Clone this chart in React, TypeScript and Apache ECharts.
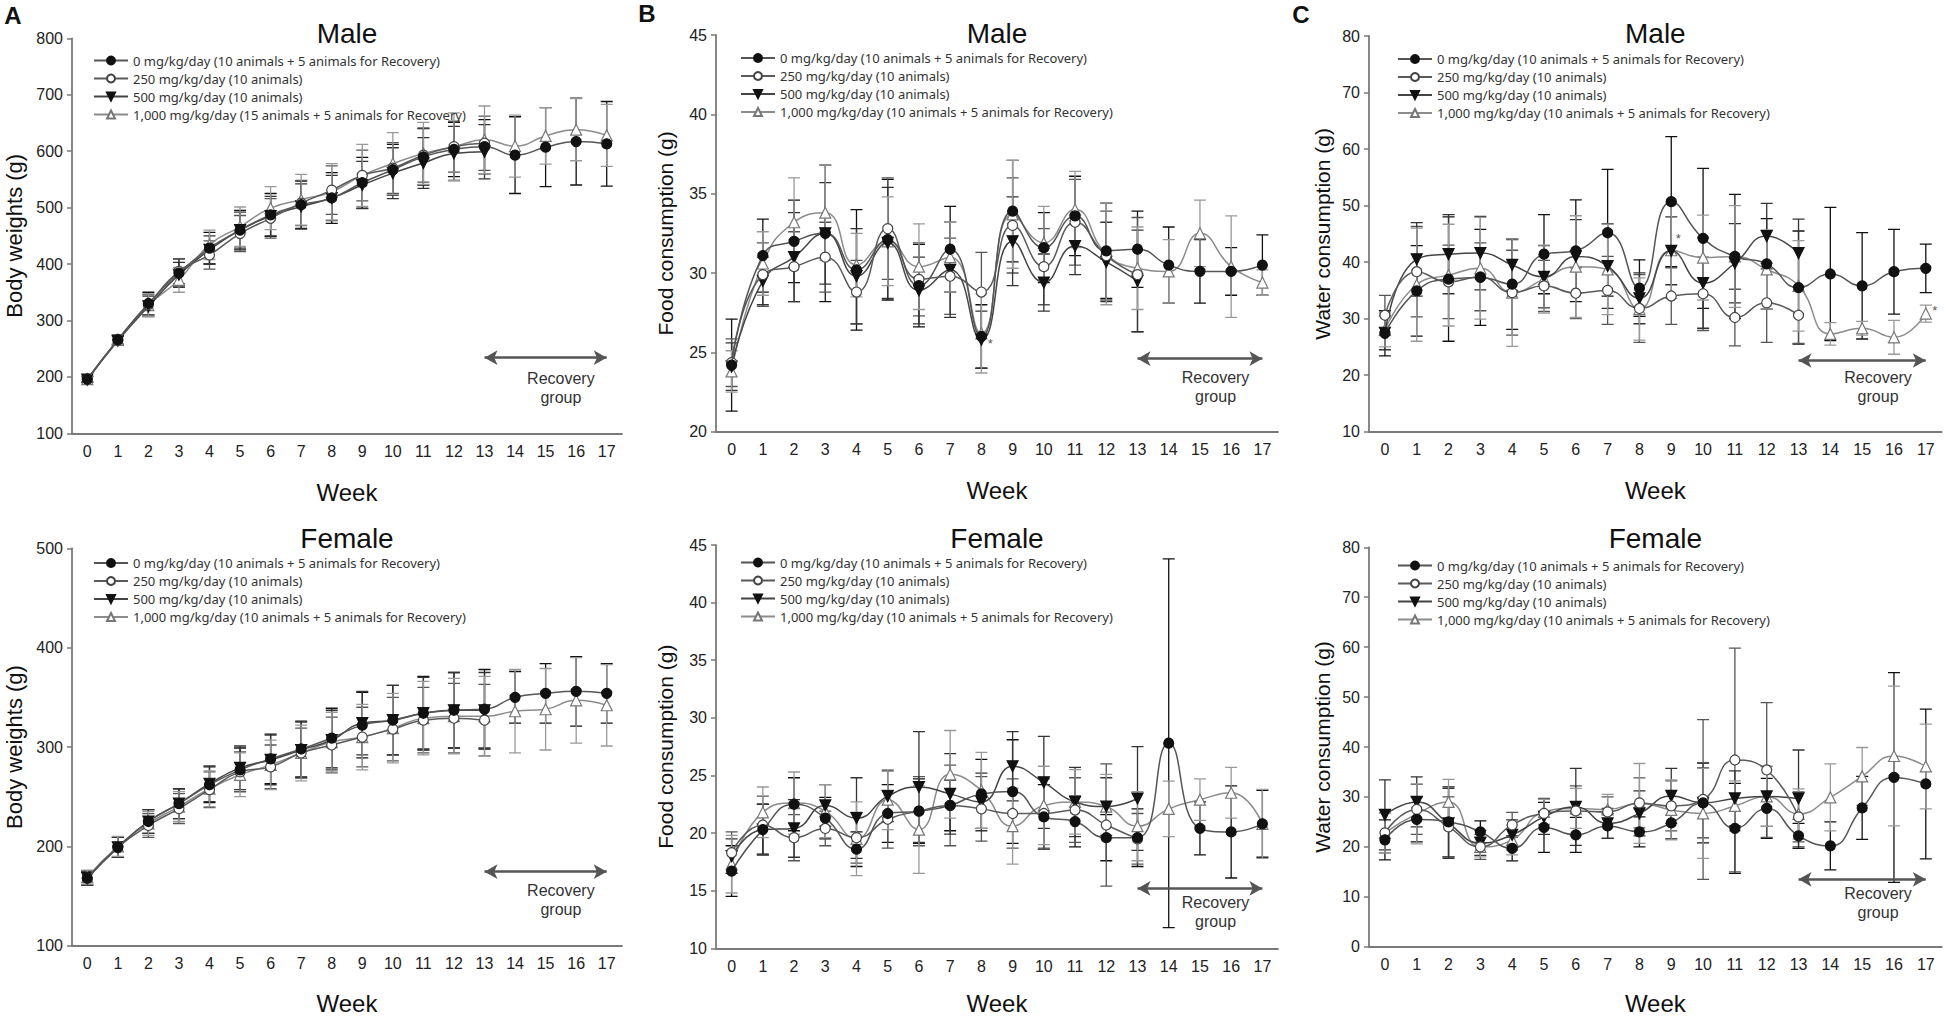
import React, { useEffect, useRef } from 'react';
import * as echarts from 'echarts';

// ---------- data ----------
const weeks = ['0', '1', '2', '3', '4', '5', '6', '7', '8', '9', '10', '11', '12', '13', '14', '15', '16', '17'];

const name0 = '0 mg/kg/day (10 animals + 5 animals for Recovery)';
const name250 = '250 mg/kg/day (10 animals)';
const name500 = '500 mg/kg/day (10 animals)';
const name1000 = '1,000 mg/kg/day (10 animals + 5 animals for Recovery)';
const name1000bwMale = '1,000 mg/kg/day (15 animals + 5 animals for Recovery)';

// A - body weights, male
const bwM0 = [196, 266, 330, 384, 428, 460, 487, 505, 517, 544, 567, 590, 603, 608, 593, 607, 617, 613];
const bwM0Sd = [5, 8, 20, 25, 28, 35, 38, 42, 45, 45, 45, 50, 48, 48, 68, 70, 77, 75];
const bwM250 = [196, 265, 328, 387, 416, 454, 481, 508, 531, 557, 570, 593, 608, 614];
const bwM250Sd = [5, 8, 18, 22, 25, 32, 35, 40, 43, 45, 45, 48, 45, 48];
const bwM500 = [195, 264, 325, 381, 425, 460, 485, 502, 517, 540, 561, 579, 596, 599];
const bwM500Sd = [5, 8, 18, 22, 25, 32, 35, 40, 40, 42, 45, 45, 48, 48];
const bwM1000 = [196, 266, 327, 372, 434, 466, 499, 514, 528, 557, 578, 596, 608, 620, 609, 627, 638, 628];
const bwM1000Sd = [5, 8, 20, 22, 26, 35, 38, 45, 50, 55, 55, 55, 60, 60, 55, 50, 55, 55];

// A - body weights, female
const bwF0 = [168, 199, 225, 243, 262, 277, 288, 298, 309, 322, 327, 334, 337, 338, 350, 354, 356, 354];
const bwF0Sd = [7, 10, 12, 15, 18, 22, 25, 28, 30, 33, 35, 37, 38, 40, 26, 30, 35, 30];
const bwF250 = [168, 199, 221, 238, 257, 275, 280, 294, 302, 310, 318, 327, 329, 327];
const bwF250Sd = [7, 10, 12, 15, 18, 20, 22, 25, 28, 30, 32, 33, 35, 36];
const bwF500 = [168, 199, 225, 243, 263, 279, 287, 297, 307, 324, 327, 334, 337, 337];
const bwF500Sd = [7, 10, 12, 15, 18, 22, 25, 28, 30, 32, 35, 36, 38, 38];
const bwF1000 = [169, 200, 223, 240, 258, 272, 282, 294, 305, 310, 319, 329, 331, 331, 336, 338, 347, 342];
const bwF1000Sd = [7, 10, 12, 15, 18, 22, 25, 28, 30, 33, 35, 37, 38, 40, 42, 41, 43, 41];

// B - food consumption, male
const fcM0 = [24.2, 31.1, 32.0, 32.5, 30.2, 32.1, 29.2, 31.5, 26.0, 33.9, 31.6, 33.6, 31.4, 31.5, 30.5, 30.1, 30.1, 30.5];
const fcM0Sd = [2.9, 2.3, 2.6, 4.3, 3.8, 3.8, 2.6, 2.7, 2.0, 3.2, 2.2, 2.5, 3.0, 2.4, 2.4, 2.0, 1.5, 1.9];
const fcM250 = [24.35, 29.9, 30.4, 31.0, 28.8, 32.8, 29.6, 29.8, 28.8, 33.0, 30.4, 33.2, 31.1, 29.9];
const fcM250Sd = [1.5, 2.0, 2.2, 2.2, 2.0, 3.2, 2.3, 2.4, 2.5, 3.0, 2.4, 2.7, 2.8, 3.6];
const fcM500 = [24.1, 29.5, 31.0, 32.5, 29.8, 31.9, 28.9, 30.2, 25.8, 32.0, 29.4, 31.7, 30.7, 29.5];
const fcM500Sd = [1.5, 1.5, 2.8, 3.2, 3.0, 3.5, 2.1, 3.0, 1.8, 2.8, 1.8, 1.8, 2.5, 3.2];
const fcM1000 = [23.8, 30.6, 33.2, 33.8, 30.5, 32.0, 30.4, 31.0, 26.2, 33.7, 31.9, 34.0, 31.2, 30.3, 30.1, 32.5, 30.4, 29.4];
const fcM1000Sd = [1.3, 2.0, 2.8, 3.0, 2.0, 2.8, 2.7, 2.2, 2.5, 3.4, 2.3, 2.4, 3.2, 2.6, 2.0, 2.1, 3.2, 0.8];

// B - food consumption, female
const fcF0 = [16.7, 20.3, 22.5, 21.3, 18.6, 21.7, 21.9, 22.4, 23.4, 23.6, 21.4, 21.0, 19.6, 19.6, 27.8, 20.4, 20.1, 20.8];
const fcF0Sd = [2.2, 2.2, 2.3, 1.8, 1.5, 2.5, 2.8, 2.2, 3.0, 4.5, 2.8, 2.2, 2.0, 2.5, 16.0, 2.3, 4.0, 2.9];
const fcF250 = [18.3, 20.7, 19.6, 20.4, 19.6, 21.2, 21.9, 22.4, 22.1, 21.7, 21.7, 22.0, 20.7, 19.5];
const fcF250Sd = [1.8, 2.5, 2.0, 1.5, 2.2, 2.5, 3.0, 3.5, 2.8, 3.0, 3.0, 2.8, 5.3, 2.2];
const fcF500 = [18.0, 20.3, 20.4, 22.4, 21.3, 23.2, 24.0, 23.4, 22.7, 25.8, 24.4, 22.7, 22.3, 23.0];
const fcF500Sd = [1.5, 2.2, 2.5, 1.8, 3.5, 2.2, 4.8, 3.5, 2.5, 3.0, 4.0, 3.0, 2.5, 4.5];
const fcF1000 = [17.3, 21.8, 22.6, 21.9, 19.5, 22.9, 20.3, 25.1, 23.7, 20.6, 22.4, 22.7, 22.3, 20.6, 22.1, 22.9, 23.5, 20.8];
const fcF1000Sd = [2.5, 2.2, 2.7, 2.3, 3.2, 2.6, 3.8, 3.8, 3.3, 3.3, 3.4, 2.8, 2.8, 3.0, 2.4, 1.8, 2.2, 3.0];

// C - water consumption, male
const wcM0 = [27.4, 34.9, 37.0, 37.3, 36.1, 41.4, 42.0, 45.2, 35.4, 50.7, 44.2, 41.0, 39.7, 35.5, 37.9, 35.8, 38.3, 38.9];
const wcM0Sd = [4.0, 8.0, 11.0, 8.5, 8.0, 7.0, 9.0, 11.2, 5.0, 11.5, 12.4, 11.0, 8.0, 10.0, 11.8, 9.4, 7.5, 4.3];
const wcM250 = [30.6, 38.3, 36.5, 37.4, 34.6, 35.8, 34.5, 35.0, 31.8, 34.0, 34.4, 30.2, 32.8, 30.6];
const wcM250Sd = [3.5, 8.0, 6.5, 6.0, 7.5, 4.5, 4.5, 6.0, 6.0, 5.0, 6.5, 5.0, 7.0, 5.0];
const wcM500 = [27.5, 40.5, 41.4, 41.6, 39.5, 37.4, 41.0, 39.3, 33.6, 42.0, 36.3, 39.8, 44.6, 41.6];
const wcM500Sd = [3.0, 6.5, 7.0, 6.5, 4.5, 5.5, 6.5, 7.5, 4.5, 6.0, 8.0, 7.0, 5.8, 6.0];
const wcM1000 = [28.0, 36.0, 37.7, 38.9, 34.6, 37.0, 39.2, 38.7, 31.7, 42.1, 40.8, 41.0, 38.7, 35.8, 27.3, 28.3, 26.7, 30.9];
const wcM1000Sd = [3.0, 10.0, 9.0, 9.0, 9.5, 6.0, 9.0, 8.0, 5.5, 8.5, 7.5, 9.0, 7.0, 8.0, 2.0, 1.2, 3.0, 1.5];

// C - water consumption, female
const wcF0 = [21.4, 25.5, 25.0, 23.0, 19.7, 23.9, 22.4, 24.2, 23.0, 24.8, 28.8, 23.7, 27.7, 22.2, 20.2, 27.8, 33.9, 32.6];
const wcF0Sd = [4.0, 4.5, 7.0, 2.2, 2.5, 5.0, 3.5, 2.5, 3.0, 3.2, 8.0, 9.0, 6.0, 2.5, 4.8, 6.3, 21.0, 15.0];
const wcF250 = [22.8, 27.5, 24.0, 20.0, 24.4, 26.7, 27.2, 27.0, 28.8, 28.2, 29.5, 37.4, 35.4, 26.0];
const wcF250Sd = [4.0, 5.0, 6.0, 2.5, 2.5, 3.0, 5.0, 3.0, 5.0, 5.0, 16.0, 22.4, 13.5, 5.0];
const wcF500 = [26.4, 29.0, 24.7, 20.8, 22.4, 26.0, 28.0, 24.7, 26.7, 30.2, 28.8, 29.7, 30.1, 29.7];
const wcF500Sd = [7.0, 5.0, 7.0, 2.5, 3.0, 3.5, 7.7, 3.0, 4.5, 5.5, 7.0, 5.5, 6.0, 9.7];
const wcF1000 = [22.8, 26.6, 29.0, 20.0, 21.4, 27.0, 27.7, 27.5, 28.7, 27.4, 26.7, 28.2, 30.1, 26.6, 29.9, 34.1, 38.2, 36.1];
const wcF1000Sd = [4.0, 6.0, 4.5, 2.0, 3.0, 2.5, 4.0, 3.0, 8.0, 6.0, 9.0, 5.0, 6.0, 5.0, 6.7, 5.8, 14.0, 8.5];

// ---------- styling ----------
const FONT = 'Liberation Sans, Arial, sans-serif';
const LEG_FONT = 'Noto Sans, sans-serif';

const doseStyles = [
  { symbol: 'circle', rotate: 0, size: 10, fill: '#111', border: '#111', line: '#555', err: '#111' },
  { symbol: 'circle', rotate: 0, size: 10, fill: '#fff', border: '#444', line: '#5a5a5a', err: '#555' },
  { symbol: 'triangle', rotate: 180, size: 11, fill: '#111', border: '#111', line: '#444', err: '#333' },
  { symbol: 'triangle', rotate: 0, size: 11, fill: '#fff', border: '#777', line: '#8c8c8c', err: '#999' },
];

type Panel = {
  grid: { left: number; top: number; width: number; height: number };
  min: number; max: number; interval: number;
  yName: string; yNameGap: number; yNameSize: number;
  title: string; weekGap: number;
  legendLeft: number; legendTop: number;
  names: string[];
  series: number[][][];
  arrowY: number; recTextY: number;
  notes: { dose: number; week: number; offset: number[] }[];
};

const panels: Panel[] = [
  {
    grid: { left: 72, top: 38.3, width: 550, height: 395 }, min: 100, max: 800, interval: 100,
    yName: 'Body weights (g)', yNameGap: 47, yNameSize: 22, title: 'Male', weekGap: 47,
    legendLeft: 93, legendTop: 55, names: [name0, name250, name500, name1000bwMale],
    series: [[bwM0, bwM0Sd], [bwM250, bwM250Sd], [bwM500, bwM500Sd], [bwM1000, bwM1000Sd]],
    arrowY: 234, recTextY: 387.5, notes: [],
  },
  {
    grid: { left: 716, top: 35, width: 562, height: 396.7 }, min: 20, max: 45, interval: 5,
    yName: 'Food consumption (g)', yNameGap: 40, yNameSize: 21, title: 'Male', weekGap: 47,
    legendLeft: 740, legendTop: 52.5, names: [name0, name250, name500, name1000],
    series: [[fcM0, fcM0Sd], [fcM250, fcM250Sd], [fcM500, fcM500Sd], [fcM1000, fcM1000Sd]],
    arrowY: 24.6, recTextY: 386.7, notes: [{ dose: 2, week: 8, offset: [9, 4] }],
  },
  {
    grid: { left: 1369, top: 36, width: 572.7, height: 395.7 }, min: 10, max: 80, interval: 10,
    yName: 'Water consumption (g)', yNameGap: 36, yNameSize: 21, title: 'Male', weekGap: 47,
    legendLeft: 1397, legendTop: 53.5, names: [name0, name250, name500, name1000],
    series: [[wcM0, wcM0Sd], [wcM250, wcM250Sd], [wcM500, wcM500Sd], [wcM1000, wcM1000Sd]],
    arrowY: 22.6, recTextY: 387.3,
    notes: [{ dose: 3, week: 9, offset: [7, -12] }, { dose: 3, week: 17, offset: [9, -3] }],
  },
  {
    grid: { left: 72, top: 548.3, width: 550, height: 397.4 }, min: 100, max: 500, interval: 100,
    yName: 'Body weights (g)', yNameGap: 47, yNameSize: 22, title: 'Female', weekGap: 46,
    legendLeft: 93, legendTop: 557.5, names: [name0, name250, name500, name1000],
    series: [[bwF0, bwF0Sd], [bwF250, bwF250Sd], [bwF500, bwF500Sd], [bwF1000, bwF1000Sd]],
    arrowY: 174.5, recTextY: 900, notes: [],
  },
  {
    grid: { left: 716, top: 545, width: 562, height: 403.3 }, min: 10, max: 45, interval: 5,
    yName: 'Food consumption (g)', yNameGap: 40, yNameSize: 21, title: 'Female', weekGap: 43,
    legendLeft: 740, legendTop: 557, names: [name0, name250, name500, name1000],
    series: [[fcF0, fcF0Sd], [fcF250, fcF250Sd], [fcF500, fcF500Sd], [fcF1000, fcF1000Sd]],
    arrowY: 15.2, recTextY: 911.7, notes: [],
  },
  {
    grid: { left: 1369, top: 547.3, width: 572.7, height: 399.4 }, min: 0, max: 80, interval: 10,
    yName: 'Water consumption (g)', yNameGap: 36, yNameSize: 21, title: 'Female', weekGap: 45,
    legendLeft: 1397, legendTop: 560, names: [name0, name250, name500, name1000],
    series: [[wcF0, wcF0Sd], [wcF250, wcF250Sd], [wcF500, wcF500Sd], [wcF1000, wcF1000Sd]],
    arrowY: 13.5, recTextY: 903.3, notes: [],
  },
];

function buildOption() {
  const grids: any[] = [];
  const xAxes: any[] = [];
  const yAxes: any[] = [];
  const titles: any[] = [];
  const legends: any[] = [];
  const series: any[] = [];
  const graphics: any[] = [];

  panels.forEach((p, g) => {
    grids.push({ ...p.grid, containLabel: false });
    xAxes.push({
      type: 'category', gridIndex: g, data: weeks, boundaryGap: true,
      name: 'Week', nameLocation: 'middle', nameGap: p.weekGap,
      nameTextStyle: { fontFamily: FONT, fontSize: 24, color: '#111' },
      axisLine: { lineStyle: { color: '#7a7a7a', width: 1.8 } },
      axisTick: { alignWithLabel: true, length: 5, lineStyle: { color: '#7a7a7a', width: 1.5 } },
      axisLabel: { interval: 0, fontFamily: FONT, fontSize: 16, color: '#222', margin: 10 },
      splitLine: { show: false },
    });
    yAxes.push({
      type: 'value', gridIndex: g, min: p.min, max: p.max, interval: p.interval,
      name: p.yName, nameLocation: 'middle', nameGap: p.yNameGap,
      nameTextStyle: { fontFamily: FONT, fontSize: p.yNameSize, color: '#111' },
      axisLine: { show: true, lineStyle: { color: '#7a7a7a', width: 1.8 } },
      axisTick: { show: true, length: 5, lineStyle: { color: '#7a7a7a', width: 1.5 } },
      axisLabel: { fontFamily: FONT, fontSize: 16, color: '#222', margin: 9 },
      splitLine: { show: false },
    });
    titles.push({
      text: p.title, left: p.grid.left + p.grid.width / 2, top: (g < 3 ? 35 : 540) - 16,
      textAlign: 'center', padding: 0,
      textStyle: { fontFamily: FONT, fontSize: 28, fontWeight: 'normal', color: '#111' },
    });
    legends.push({
      orient: 'vertical', left: p.legendLeft, top: p.legendTop - 1, padding: 0,
      itemWidth: 34, itemHeight: 10, itemGap: 5, selectedMode: false,
      data: p.names,
      textStyle: { fontFamily: LEG_FONT, fontSize: 13, color: '#333' },
    });

    p.series.forEach(([means, sds], d) => {
      const st = doseStyles[d];
      series.push({
        type: 'custom', name: 'err-' + g + '-' + d, xAxisIndex: g, yAxisIndex: g,
        z: 1, silent: true, clip: true,
        data: means.map((m, i) => [i, m, sds[i]]),
        encode: { x: 0, y: 1 },
        renderItem: (params: any, api: any) => {
          const x = api.value(0);
          const m = api.value(1);
          const s = api.value(2);
          const top = api.coord([x, m + s]);
          const bot = api.coord([x, m - s]);
          const hw = 6;
          const style = { stroke: st.err, lineWidth: 1.3 };
          return {
            type: 'group',
            children: [
              { type: 'line', shape: { x1: top[0], y1: top[1], x2: bot[0], y2: bot[1] }, style },
              { type: 'line', shape: { x1: top[0] - hw, y1: top[1], x2: top[0] + hw, y2: top[1] }, style },
              { type: 'line', shape: { x1: bot[0] - hw, y1: bot[1], x2: bot[0] + hw, y2: bot[1] }, style },
            ],
          };
        },
      });
      const lineSeries: any = {
        type: 'line', name: p.names[d], xAxisIndex: g, yAxisIndex: g,
        data: means, smooth: 0.5, symbol: st.symbol, symbolRotate: st.rotate, symbolSize: st.size,
        showSymbol: true, z: 5 - d * 0.5 + 2,
        lineStyle: { color: st.line, width: 1.5 },
        itemStyle: { color: st.fill, borderColor: st.border, borderWidth: 1.2 },
        emphasis: { disabled: true },
      };
      if (d === 0) {
        lineSeries.markLine = {
          silent: true, symbol: ['arrow', 'arrow'], symbolSize: [11, 13],
          lineStyle: { color: '#555', width: 2.5, type: 'solid' },
          label: { show: false },
          data: [[{ coord: [weeks[13], p.arrowY] }, { coord: [weeks[17], p.arrowY] }]],
        };
      }
      const notes = p.notes.filter((n) => n.dose === d);
      if (notes.length) {
        lineSeries.markPoint = {
          silent: true, symbol: 'circle', symbolSize: 0,
          label: { show: true, formatter: '*', fontFamily: FONT, fontSize: 13, color: '#555' },
          data: notes.map((n) => ({
            coord: [weeks[n.week], means[n.week]],
            label: { offset: n.offset },
          })),
        };
      }
      series.push(lineSeries);
    });

    graphics.push({
      type: 'text',
      x: p.grid.left + (p.grid.width * 16) / 18, y: p.recTextY,
      style: {
        text: 'Recovery\ngroup', fontFamily: FONT, fontSize: 16, lineHeight: 19,
        fill: '#333', textAlign: 'center', textVerticalAlign: 'middle',
      },
    });
  });

  graphics.push(
    { type: 'text', x: 13, y: 15, style: { text: 'A', fontFamily: FONT, fontSize: 24, fontWeight: 'bold', fill: '#111', textAlign: 'center', textVerticalAlign: 'middle' } },
    { type: 'text', x: 647, y: 13, style: { text: 'B', fontFamily: FONT, fontSize: 24, fontWeight: 'bold', fill: '#111', textAlign: 'center', textVerticalAlign: 'middle' } },
    { type: 'text', x: 1301, y: 14, style: { text: 'C', fontFamily: FONT, fontSize: 24, fontWeight: 'bold', fill: '#111', textAlign: 'center', textVerticalAlign: 'middle' } },
  );

  return {
    animation: false,
    backgroundColor: '#fff',
    title: titles,
    legend: legends,
    grid: grids,
    xAxis: xAxes,
    yAxis: yAxes,
    series,
    graphic: graphics,
  };
}

export default function App() {
  const ref = useRef<HTMLDivElement>(null);
  useEffect(() => {
    if (!ref.current) return;
    const chart = echarts.init(ref.current, undefined, { renderer: 'svg' });
    chart.setOption(buildOption() as any);
    return () => chart.dispose();
  }, []);
  return (
    <div
      ref={ref}
      style={{ position: 'absolute', left: 0, top: 0, width: 1946, height: 1017, background: '#fff' }}
    />
  );
}
